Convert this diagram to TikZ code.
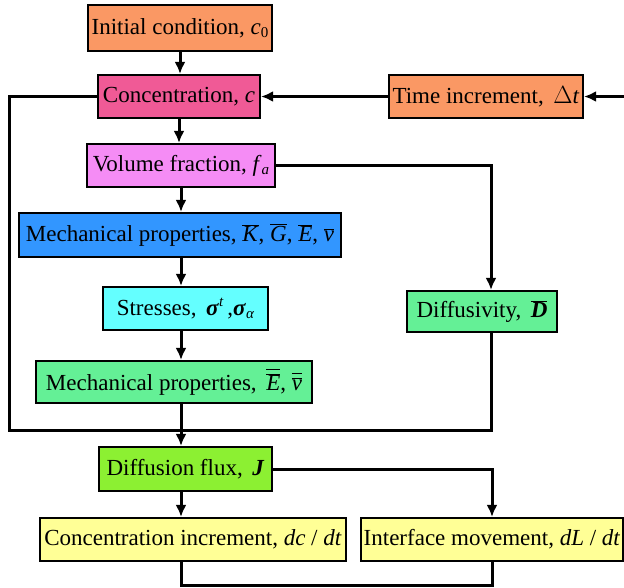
\documentclass[tikz,border=0pt]{standalone}
\usepackage{fontspec}
\setmainfont{Liberation Serif}
\usetikzlibrary{positioning,arrows.meta}

\definecolor{orangebox}{RGB}{250,152,100}
\definecolor{pinkbox}{RGB}{240,90,150}
\definecolor{violetbox}{RGB}{245,140,245}
\definecolor{bluebox}{RGB}{50,150,255}
\definecolor{cyanbox}{RGB}{100,255,255}
\definecolor{greenbox}{RGB}{100,240,150}
\definecolor{limebox}{RGB}{140,240,50}
\definecolor{yellowbox}{RGB}{255,255,150}

\newcommand{\iv}[1]{\textit{#1}}
\newcommand{\bv}[1]{\textbf{\textit{#1}}}
\newcommand{\ob}[1]{$\overline{\mbox{#1}}$}
\newcommand{\oob}[1]{$\overline{\mbox{\raisebox{0pt}[\dimexpr\height+3pt\relax]{$\overline{\mbox{#1}}$}}}$}
\newcommand{\lo}[1]{\raisebox{-0.3ex}{\fontsize{15}{15}\selectfont #1}}
\newcommand{\hi}[1]{\raisebox{0.8ex}{\fontsize{15}{15}\selectfont #1}}

\begin{document}
\begin{tikzpicture}[x=1pt,y=-1pt,
    box/.style={draw,line width=2.2pt,minimum height=43pt,inner xsep=3pt,
        font=\fontsize{23}{27}\selectfont},
    link/.style={line width=3pt,-{Latex[length=12pt,width=11pt]}},
    wire/.style={line width=3pt}]
    \useasboundingbox (0,0) rectangle (624,587);
    % boxes
    \node[box,fill=orangebox,minimum width=184pt,minimum height=46pt] (init) at (180,28) {Initial condition, \iv{c}\lo{0}};
    \node[box,fill=pinkbox,minimum width=162pt] (conc) at (179,96.5) {Concentration, \iv{c}};
    \node[box,fill=orangebox,minimum width=194pt] (time) at (486,96.5) {Time increment,\, $\Delta$\iv{t}};
    \node[box,fill=violetbox,minimum width=188pt] (vf) at (181,165.5) {Volume fraction, \iv{f}\lo{\iv{a}}};
    \node[box,fill=bluebox,minimum width=322pt,minimum height=44pt] (mpa) at (180,235) {Mechanical properties, \ob{\iv{K}}, \ob{\iv{G}}, \ob{\iv{E}}, \ob{\iv{v}}};
    \node[box,fill=cyanbox,minimum width=165pt] (str) at (185.5,308.5) {Stresses,\, \bv{σ}\hi{\iv{t}}\,,\bv{σ}\lo{\iv{α}}};
    \node[box,fill=greenbox,minimum width=150pt,minimum height=41pt] (dif) at (482,311.5) {Diffusivity,\, \bv{\ob{D}}};
    \node[box,fill=greenbox,minimum width=276pt,minimum height=42pt] (mpb) at (174,382) {Mechanical properties,\, \oob{\iv{E}}, \oob{\iv{v}}};
    \node[box,fill=limebox,minimum width=173pt,minimum height=44pt] (flux) at (185.5,469) {Diffusion flux,\, \bv{J}};
    \node[box,fill=yellowbox,minimum width=306pt] (cinc) at (193,539.5) {Concentration increment, \iv{dc} / \iv{dt}};
    \node[box,fill=yellowbox,minimum width=258pt] (imov) at (492,539.5) {Interface movement, \iv{dL} / \iv{dt}};
    \coordinate (lft) at (9,430);
    \coordinate (rgt) at (630,96.5);
    % connectors
    \draw[link] (init) -- (init.south |- conc.north);
    \draw[link] (time) -- (conc);
    \draw[link] (rgt) -- (time);
    \draw[link] (conc) -- (conc.south |- vf.north);
    \draw[link] (vf) -- (vf.south |- mpa.north);
    \draw[link] (mpa.south -| vf) -- (str.north -| vf);
    \draw[link] (str.south -| vf) -- (mpb.north -| vf);
    \draw[link] (mpb.south -| vf) -- (flux.north -| vf);
    \draw[link] (vf.east) -| ([xshift=9pt]dif.north);
    \draw[wire] (conc.west) -| (lft) -| ([xshift=9pt]dif.south);
    \draw[link] (flux.east) -| (imov.north);
    \draw[link] (flux.south -| vf) -- (cinc.north -| vf);
    \draw[wire] (cinc.south -| vf) -- ++(0,23) -| (imov.south);
\end{tikzpicture}
\end{document}
